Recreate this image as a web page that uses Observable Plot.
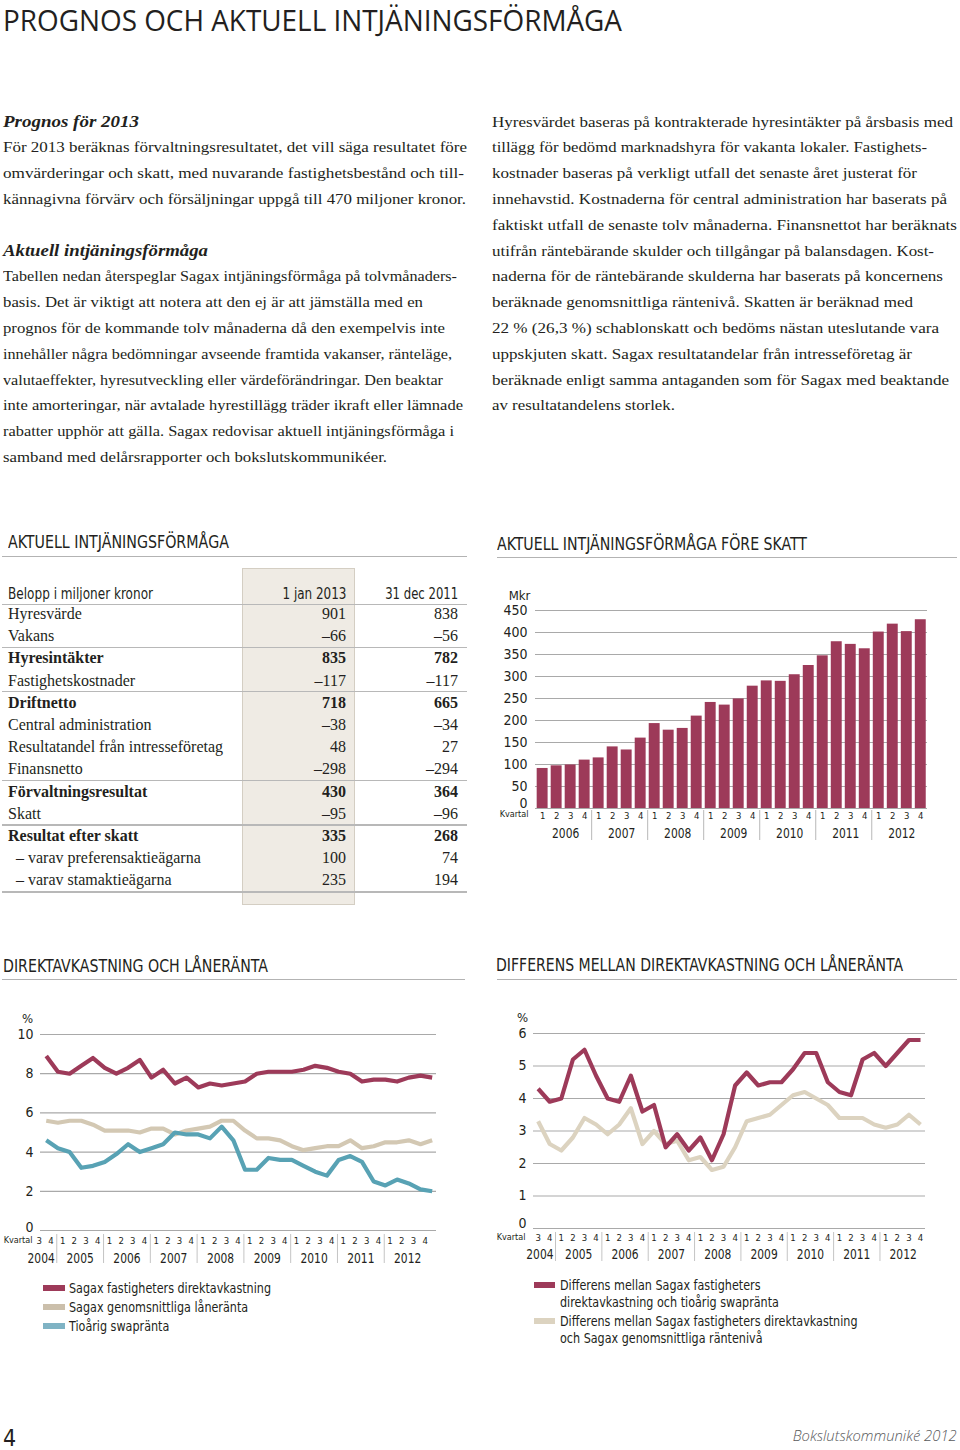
<!DOCTYPE html>
<html lang="sv"><head><meta charset="utf-8">
<script src="https://cdn.jsdelivr.net/npm/d3@7"></script>
<script src="https://cdn.jsdelivr.net/npm/@observablehq/plot@0.6"></script>
<style>
html,body{margin:0;padding:0;background:#fff}
body{width:960px;height:1450px;position:relative;overflow:hidden;color:#231f20}
.a{position:absolute;white-space:nowrap}
.cond{font-family:"Liberation Sans Narrow","DejaVu Sans Condensed","Open Sans",sans-serif;font-stretch:condensed}
.serif{font-family:"Liberation Serif","DejaVu Serif",serif}
.rule{position:absolute;height:1px;background:#aaaaaa}
.sw{position:absolute;width:22px;height:6px}
</style></head><body>
<div id="root"></div>
<script>
// ---------- DATA ----------
const barYears = [2006, 2007, 2008, 2009, 2010, 2011, 2012];
const barQuarters = [1, 2, 3, 4];
const barValues = [91, 97, 99, 110, 115, 140, 133, 160, 193, 178, 182, 210, 241, 235, 249, 278, 290, 289, 304, 325, 347, 379, 373, 363, 401, 419, 402, 429];

const lineYears = [2004, 2005, 2006, 2007, 2008, 2009, 2010, 2011, 2012];
const lineFirstQuarter = 3; // series starts 2004 Q3
const direktavkastning = [8.9, 8.1, 8.0, 8.4, 8.8, 8.3, 8.0, 8.3, 8.7, 7.8, 8.2, 7.5, 7.8, 7.3, 7.5, 7.4, 7.5, 7.6, 8.0, 8.1, 8.1, 8.1, 8.2, 8.4, 8.3, 8.1, 8.0, 7.6, 7.7, 7.7, 7.6, 7.8, 7.9, 7.8];
const laneranta = [5.6, 5.5, 5.6, 5.6, 5.4, 5.1, 5.1, 5.1, 5.0, 5.2, 5.2, 4.9, 5.1, 5.2, 5.3, 5.6, 5.6, 5.1, 4.7, 4.7, 4.6, 4.3, 4.1, 4.2, 4.3, 4.3, 4.6, 4.2, 4.3, 4.5, 4.5, 4.6, 4.4, 4.6];
const swapranta = [4.6, 4.2, 4.0, 3.2, 3.3, 3.5, 3.9, 4.4, 4.0, 4.2, 4.4, 5.0, 4.9, 4.9, 4.7, 5.3, 4.6, 3.1, 3.1, 3.7, 3.6, 3.6, 3.3, 3.0, 2.8, 3.6, 3.8, 3.5, 2.5, 2.3, 2.6, 2.4, 2.1, 2.0];
const diffSwap = [4.3, 3.9, 4.0, 5.2, 5.5, 4.7, 4.0, 3.9, 4.7, 3.6, 3.8, 2.5, 2.9, 2.4, 2.8, 2.1, 2.9, 4.4, 4.8, 4.4, 4.5, 4.5, 4.9, 5.4, 5.4, 4.5, 4.2, 4.1, 5.2, 5.4, 5.0, 5.4, 5.8, 5.8];
const diffLan = [3.3, 2.6, 2.4, 2.8, 3.4, 3.2, 2.9, 3.2, 3.7, 2.6, 3.0, 2.6, 2.7, 2.1, 2.2, 1.8, 1.9, 2.5, 3.3, 3.4, 3.5, 3.8, 4.1, 4.2, 4.0, 3.8, 3.4, 3.4, 3.4, 3.2, 3.1, 3.2, 3.5, 3.2];

const tableLabels = ["Hyresvärde", "Vakans", "Hyresintäkter", "Fastighetskostnader", "Driftnetto", "Central administration", "Resultatandel från intresseföretag", "Finansnetto", "Förvaltningsresultat", "Skatt", "Resultat efter skatt", "– varav preferensaktieägarna", "– varav stamaktieägarna"];
const tableJan2013 = [901, -66, 835, -117, 718, -38, 48, -298, 430, -95, 335, 100, 235];
const tableDec2011 = [838, -56, 782, -117, 665, -34, 27, -294, 364, -96, 268, 74, 194];
const tableBoldRows = [2, 4, 8, 10];
const tableGroupEnds = [1, 3, 7, 9, 12];
const tableHeaders = ["Belopp i miljoner kronor", "1 jan 2013", "31 dec 2011"];

const legendLeft = ["Sagax fastigheters direktavkastning", "Sagax genomsnittliga låneränta", "Tioårig swapränta"];
const legendRight = [["Differens mellan Sagax fastigheters", "direktavkastning och tioårig swapränta"], ["Differens mellan Sagax fastigheters direktavkastning", "och Sagax genomsnittliga räntenivå"]];

// ---------- STYLE ----------
const RED = "#9d3a59", BEIGE = "#d3c8b3", BEIGE2 = "#dcd3c0", BLUE = "#58a2b4", INK = "#231f20", GRID = "#a9a9a9";
const COND = `"Liberation Sans Narrow","DejaVu Sans Condensed","Open Sans",sans-serif`;

const root = document.getElementById("root");
function el(html) { const t = document.createElement("div"); t.innerHTML = html; const e = t.firstElementChild; root.appendChild(e); return e; }

// ---------- TEXT ----------
el(`<div class="a" data-w="619" style="left:3px;top:0px;font-family:'Open Sans',sans-serif;font-size:30px;line-height:40px;">PROGNOS OCH AKTUELL INTJÄNINGSFÖRMÅGA</div>`);

const LH = 25.8, FS = 15.6;
function para(lines, left, firstCenter) {
  lines.forEach((ln, k) => {
    const [txt, w, style] = ln;
    const top = firstCenter + k * LH - LH / 2 - 1.5;
    el(`<div class="a serif" ${w ? `data-w="${w}"` : ""} style="left:${left}px;top:${top}px;font-size:${FS}px;line-height:${LH}px;${style || ""}">${txt}</div>`);
  });
}
const BI = "font-weight:bold;font-style:italic;font-size:17.5px;";
para([
  ["Prognos för 2013", 136, BI],
  ["För 2013 beräknas förvaltningsresultatet, det vill säga resultatet före", 464],
  ["omvärderingar och skatt, med nuvarande fastighetsbestånd och till-", 461],
  ["kännagivna förvärv och försäljningar uppgå till 470 miljoner kronor.", 463],
], 3, 123);
para([
  ["Aktuell intjäningsförmåga", 205, BI],
  ["Tabellen nedan återspeglar Sagax intjäningsförmåga på tolvmånaders-", 454],
  ["basis. Det är viktigt att notera att den ej är att jämställa med en", 420],
  ["prognos för de kommande tolv månaderna då den exempelvis inte", 442],
  ["innehåller några bedömningar avseende framtida vakanser, ränteläge,", 449],
  ["valutaeffekter, hyresutveckling eller värdeförändringar. Den beaktar", 440],
  ["inte amorteringar, när avtalade hyrestillägg träder ikraft eller lämnade", 460],
  ["rabatter upphör att gälla. Sagax redovisar aktuell intjäningsförmåga i", 451],
  ["samband med delårsrapporter och bokslutskommunikéer.", 384],
], 3, 252);
para([
  ["Hyresvärdet baseras på kontrakterade hyresintäkter på årsbasis med", 461],
  ["tillägg för bedömd marknadshyra för vakanta lokaler. Fastighets-", 435],
  ["kostnader baseras på verkligt utfall det senaste året justerat för", 425],
  ["innehavstid. Kostnaderna för central administration har baserats på", 455],
  ["faktiskt utfall de senaste tolv månaderna. Finansnettot har beräknats", 465],
  ["utifrån räntebärande skulder och tillgångar på balansdagen. Kost-", 442],
  ["naderna för de räntebärande skulderna har baserats på koncernens", 451],
  ["beräknade genomsnittliga räntenivå. Skatten är beräknad med", 421],
  ["22 % (26,3 %) schablonskatt och bedöms nästan uteslutande vara", 447],
  ["uppskjuten skatt. Sagax resultatandelar från intresseföretag är", 420],
  ["beräknade enligt samma antaganden som för Sagax med beaktande", 457],
  ["av resultatandelens storlek.", 183],
], 492, 123);

// section headers
function header(txt, left, center, w, lineLeft, lineW, lineY) {
  el(`<div class="a cond" data-w="${w}" style="left:${left}px;top:${center - 11}px;font-size:18px;line-height:22px;">${txt}</div>`);
  el(`<div class="rule" style="left:${lineLeft}px;top:${lineY}px;width:${lineW}px;height:1.3px;background:#b3b3b3"></div>`);
}
header("AKTUELL INTJÄNINGSFÖRMÅGA", 8, 542, 221, 2, 465, 556);
header("AKTUELL INTJÄNINGSFÖRMÅGA FÖRE SKATT", 497, 544, 310, 497, 460, 557);
header("DIREKTAVKASTNING OCH LÅNERÄNTA", 3, 966, 265, 2, 463, 979);
header("DIFFERENS MELLAN DIREKTAVKASTNING OCH LÅNERÄNTA", 496, 965, 407, 497, 460, 979);

// ---------- TABLE ----------
el(`<div class="a" style="left:242px;top:568px;width:113px;height:337px;background:#efebe4;border:1px solid #d4cec3;box-sizing:border-box"></div>`);
const fmt = v => v < 0 ? "–" + Math.abs(v) : String(v);
el(`<div class="a cond" data-w="145" style="left:8px;top:583px;font-size:15.5px;line-height:22px">${tableHeaders[0]}</div>`);
el(`<div class="a cond" data-w="64" data-anchor="end" style="right:${960 - 346}px;top:583px;font-size:15.5px;line-height:22px">${tableHeaders[1]}</div>`);
el(`<div class="a cond" data-w="73" data-anchor="end" style="right:${960 - 458}px;top:583px;font-size:15.5px;line-height:22px">${tableHeaders[2]}</div>`);
el(`<div class="rule" style="left:2px;top:604px;width:465px;height:1.3px;background:#b8b8b8"></div>`);
const rowC = i => 615 + 22.2 * i;
tableLabels.forEach((lab, i) => {
  const b = tableBoldRows.includes(i) ? "font-weight:bold;" : "";
  const indent = lab.startsWith("–") ? 16 : 8;
  const top = rowC(i) - 11 - 1;
  el(`<div class="a serif" style="left:${indent}px;top:${top}px;font-size:16px;line-height:22px;${b}">${lab}</div>`);
  el(`<div class="a serif" style="right:${960 - 346}px;top:${top}px;font-size:16px;line-height:22px;${b}">${fmt(tableJan2013[i])}</div>`);
  el(`<div class="a serif" style="right:${960 - 458}px;top:${top}px;font-size:16px;line-height:22px;${b}">${fmt(tableDec2011[i])}</div>`);
  if (tableGroupEnds.includes(i)) {
    const y = i === tableLabels.length - 1 ? rowC(i) + 10 : (rowC(i) + rowC(i + 1)) / 2 - 1.5;
    el(`<div class="rule" style="left:2px;top:${y}px;width:465px;height:1.3px;background:#b8b8b8"></div>`);
  }
});

// ---------- CHARTS ----------
function place(node, left, top) {
  const d = document.createElement("div"); d.className = "a"; d.style.left = left + "px"; d.style.top = top + "px"; d.appendChild(node); root.appendChild(d);
  // condense the year labels like the narrow original typeface
  node.querySelectorAll("text").forEach(t => {
    if (/^20\d\d$/.test(t.textContent)) {
      const L = t.getComputedTextLength();
      t.setAttribute("textLength", (L * 0.85).toFixed(2));
      t.setAttribute("lengthAdjust", "spacingAndGlyphs");
    }
  });
}

// Bar chart
const barData = barValues.map((v, i) => ({ i, q: barQuarters[i % 4], year: barYears[Math.floor(i / 4)], v }));
const barYearData = barYears.map((y, k) => ({ year: y, x: 4 * k + 1.5 }));
const barSeps = barYears.slice(1).map((y, k) => 4 * (k + 1) - 0.5);
const barTicks = d3.range(0, 451, 50);
const barH = 260, barMT = 25, barMB = 37, barFrame = barH - barMT - barMB;
place(Plot.plot({
  width: 470, height: barH, marginLeft: 45, marginRight: 33, marginTop: barMT, marginBottom: barMB,
  style: { fontFamily: COND, color: INK, background: "transparent", overflow: "visible" },
  x: { domain: [-0.51, 27.48], axis: null },
  y: { domain: [0, 450], axis: null },
  marks: [
    Plot.gridY(barTicks, { stroke: GRID, strokeOpacity: 1, strokeWidth: 1 }),
    Plot.rectY(barData, { x1: d => d.i - 0.39, x2: d => d.i + 0.39, y: "v", fill: RED }),
    Plot.axisY(barTicks.filter(t => t > 0), { tickSize: 0, tickPadding: 8, fontSize: 14, label: null }),
    Plot.axisY([0], { tickSize: 0, tickPadding: 8, fontSize: 14, label: null, dy: -5 }),
    Plot.text(["Mkr"], { frameAnchor: "top-left", textAnchor: "middle", lineAnchor: "middle", dx: -16, dy: -15, fontSize: 13, fill: INK }),
    Plot.text(barData, { x: "i", y: 0, text: d => String(d.q), dy: 7, fontSize: 9.5, fill: INK }),
    Plot.text(["Kvartal"], { frameAnchor: "bottom-left", textAnchor: "end", lineAnchor: "middle", dx: -7, dy: 6, fontSize: 9, fill: INK }),
    Plot.text(barYearData, { x: "x", y: 0, text: d => String(d.year), dy: 25, dx: 2, fontSize: 14, fill: INK }),
    Plot.ruleX(barSeps, { stroke: "#b8b8b8", insetTop: barFrame + 2, insetBottom: -32 })
  ]
}), 490, 585);

// line chart helper
const periods = [];
lineYears.forEach((y, k) => { const q0 = k === 0 ? lineFirstQuarter : 1; for (let q = q0; q <= 4; q++) periods.push({ year: y, q }); });
periods.forEach((p, i) => p.i = i);
const lineYearData = lineYears.map(y => {
  const idx = periods.filter(p => p.year === y).map(p => p.i);
  const full = idx.length === 4;
  // a partial (first) year is right-aligned against its year separator
  return { year: y, full, x: full ? (idx[0] + idx[3]) / 2 : idx[idx.length - 1] + 0.5 };
});
const lineSeps = lineYears.slice(1).map(y => periods.find(p => p.year === y).i - 0.5);

function lineChart({ series, yMax, yTicks, width, height, mL, mR, mT, mB, xDomain, labelDx, pctDx, qDy, yrDy, zeroDy }) {
  const frame = height - mT - mB;
  const marks = [
    Plot.gridY(yTicks, { stroke: GRID, strokeOpacity: 1, strokeWidth: 1.2 }),
    Plot.axisY(yTicks.filter(t => t > 0), { tickSize: 0, tickPadding: 7, fontSize: 14, label: null }),
    Plot.axisY([0], { tickSize: 0, tickPadding: 7, fontSize: 14, label: null, dy: zeroDy }),
    Plot.text(["%"], { frameAnchor: "top-left", textAnchor: "middle", lineAnchor: "middle", dx: pctDx, dy: -16, fontSize: 13, fill: INK }),
    Plot.text(periods, { x: "i", y: 0, text: d => String(d.q), dx: labelDx, dy: qDy, fontSize: 9.5, fill: INK }),
    Plot.text(["Kvartal"], { frameAnchor: "bottom-left", textAnchor: "end", lineAnchor: "middle", dx: -8, dy: qDy, fontSize: 9, fill: INK }),
    Plot.text(lineYearData.filter(d => d.full), { x: "x", y: 0, text: d => String(d.year), dx: labelDx, dy: yrDy, fontSize: 14, fill: INK }),
    Plot.text(lineYearData.filter(d => !d.full), { x: "x", y: 0, text: d => String(d.year), textAnchor: "end", dx: labelDx - 2, dy: yrDy, fontSize: 14, fill: INK }),
    Plot.ruleX(lineSeps, { dx: labelDx, stroke: "#c4c4c4", insetTop: frame + 4, insetBottom: -33 })
  ];
  series.forEach(s => marks.push(Plot.line(s.values.map((v, i) => ({ i, v })), { x: "i", y: "v", stroke: s.color, strokeWidth: 4.2, strokeLinejoin: "round", strokeLinecap: "butt" })));
  return Plot.plot({
    width, height, marginLeft: mL, marginRight: mR, marginTop: mT, marginBottom: mB,
    style: { fontFamily: COND, color: INK, background: "transparent", overflow: "visible" },
    x: { domain: xDomain, axis: null },
    y: { domain: [0, yMax], axis: null },
    marks
  });
}

place(lineChart({
  series: [{ values: laneranta, color: BEIGE }, { values: swapranta, color: BLUE }, { values: direktavkastning, color: RED }],
  yMax: 10, yTicks: [0, 2, 4, 6, 8, 10], width: 460, height: 265, mL: 40, mR: 24, mT: 29, mB: 40,
  xDomain: [-0.49, 33.37], labelDx: -7, pctDx: -13, qDy: 10, yrDy: 28, zeroDy: -3
}), 0, 1005);

place(lineChart({
  series: [{ values: diffLan, color: BEIGE2 }, { values: diffSwap, color: RED }],
  yMax: 6, yTicks: [0, 1, 2, 3, 4, 5, 6], width: 470, height: 265, mL: 43, mR: 35, mT: 28, mB: 42,
  xDomain: [-0.4, 33.43], labelDx: 0, pctDx: -11, qDy: 9, yrDy: 26, zeroDy: -5
}), 490, 1005);

// ---------- LEGENDS ----------
const legColorsL = [RED, "#cbbfab", "#7fb3c4"];
legendLeft.forEach((t, k) => {
  const c = 1288 + k * 19;
  el(`<div class="sw" style="left:43px;top:${c - 3}px;background:${legColorsL[k]}"></div>`);
  el(`<div class="a cond" ${k === 0 ? 'data-w="202"' : 'data-scale-like="0"'} style="left:69px;top:${c - 9}px;font-size:14px;line-height:18px">${t}</div>`);
});
const legColorsR = [RED, BEIGE2];
legendRight.forEach((pair, k) => {
  const c = 1285 + k * 36;
  el(`<div class="sw" style="left:534px;top:${c - 3}px;width:21px;background:${legColorsR[k]}"></div>`);
  pair.forEach((t, j) => el(`<div class="a cond" data-scale-like="0" style="left:560px;top:${c - 9 + j * 17}px;font-size:14px;line-height:18px">${t}</div>`));
});

// ---------- FOOTER ----------
el(`<div class="a cond" style="left:3px;top:1425px;font-size:23px;line-height:26px">4</div>`);
el(`<div class="a" data-w="164" data-anchor="end" style="right:3px;top:1426px;font-family:'Open Sans',sans-serif;font-style:italic;font-weight:300;font-size:14.5px;line-height:20px;color:#58595b">Bokslutskommuniké 2012</div>`);

// ---------- FIT ----------
let legendScale = 1;
document.querySelectorAll("[data-w]").forEach(e => {
  const w = e.getBoundingClientRect().width;
  const s = (+e.dataset.w) / w;
  e.style.transformOrigin = e.dataset.anchor === "end" ? "right center" : "left center";
  e.style.transform = `scaleX(${s})`;
  if (e.textContent === legendLeft[0]) legendScale = s;
});
document.querySelectorAll("[data-scale-like]").forEach(e => { e.style.transformOrigin = "left center"; e.style.transform = `scaleX(${legendScale})`; });
</script>
</body></html>
